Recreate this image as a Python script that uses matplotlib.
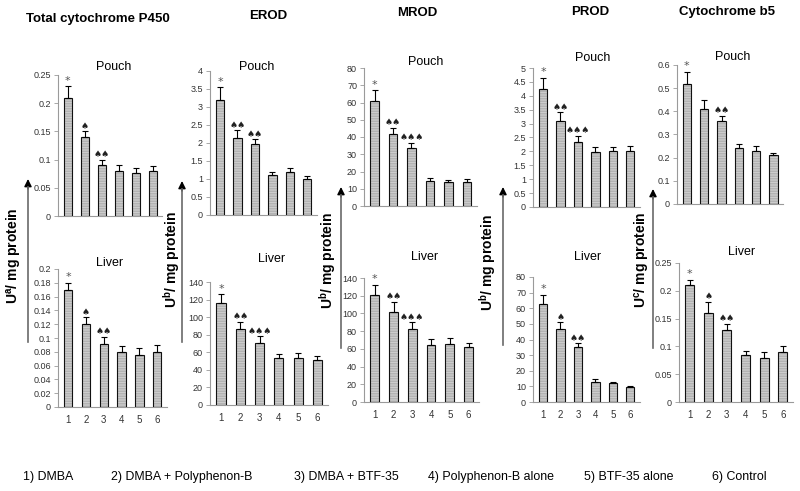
import numpy as np
import matplotlib
matplotlib.use('Agg')
import matplotlib.pyplot as plt
from matplotlib.patches import FancyArrowPatch
from matplotlib.lines import Line2D
from matplotlib import font_manager

plt.rcParams['font.family'] = ['Liberation Sans', 'DejaVu Sans']
plt.rcParams['mathtext.fontset'] = 'custom'
plt.rcParams['mathtext.rm'] = 'Liberation Sans'
plt.rcParams['mathtext.bf'] = 'Liberation Sans:bold'
plt.rcParams['hatch.linewidth'] = 0.6

# ---------------- data ----------------
groups = ['1', '2', '3', '4', '5', '6']
titles = ['Total cytochrome P450', 'EROD', 'MROD', 'PROD', 'Cytochrome b5']
ylabel_sup = ['a', 'b', 'b', 'b', 'c']

p450_pouch = [0.21, 0.14, 0.09, 0.08, 0.077, 0.08]
p450_pouch_err = [0.02, 0.01, 0.01, 0.01, 0.008, 0.008]
p450_pouch_sig = ['*', '♠', '♠♠', '', '', '']
p450_liver = [0.17, 0.12, 0.092, 0.079, 0.076, 0.08]
p450_liver_err = [0.01, 0.01, 0.01, 0.01, 0.01, 0.01]
p450_liver_sig = ['*', '♠', '♠♠', '', '', '']

erod_pouch = [3.2, 2.15, 1.97, 1.1, 1.2, 1.0]
erod_pouch_err = [0.35, 0.2, 0.13, 0.1, 0.1, 0.07]
erod_pouch_sig = ['*', '♠♠', '♠♠', '', '', '']
erod_liver = [116, 86, 71, 53, 54, 51]
erod_liver_err = [10, 9, 7, 5, 5, 5]
erod_liver_sig = ['*', '♠♠', '♠♠♠', '', '', '']

mrod_pouch = [61, 41.5, 33.5, 14.5, 13.8, 14]
mrod_pouch_err = [6, 4, 3, 1.5, 1.2, 1.5]
mrod_pouch_sig = ['*', '♠♠', '♠♠♠', '', '', '']
mrod_liver = [121, 102, 82, 64, 66, 62]
mrod_liver_err = [11, 11, 8, 7, 6, 5]
mrod_liver_sig = ['*', '♠♠', '♠♠♠', '', '', '']

prod_pouch = [4.25, 3.1, 2.33, 1.97, 2.0, 2.0]
prod_pouch_err = [0.4, 0.3, 0.22, 0.18, 0.15, 0.18]
prod_pouch_sig = ['*', '♠♠', '♠♠♠', '', '', '']
prod_liver = [62.5, 47, 35, 12.5, 12, 9.5]
prod_liver_err = [6, 4, 2.5, 2, 1, 0.5]
prod_liver_sig = ['*', '♠', '♠♠', '', '', '']

b5_pouch = [0.52, 0.41, 0.36, 0.24, 0.23, 0.21]
b5_pouch_err = [0.05, 0.04, 0.02, 0.02, 0.02, 0.01]
b5_pouch_sig = ['*', '', '♠♠', '', '', '']
b5_liver = [0.21, 0.16, 0.13, 0.084, 0.08, 0.09]
b5_liver_err = [0.01, 0.02, 0.01, 0.008, 0.01, 0.01]
b5_liver_sig = ['*', '♠', '♠♠', '', '', '']

legend_items = ['1) DMBA', '2) DMBA + Polyphenon-B', '3) DMBA + BTF-35',
                '4) Polyphenon-B alone', '5) BTF-35 alone', '6) Control']

# ---------------- layout ----------------
W, H = 800, 491
fig = plt.figure(figsize=(W / 100, H / 100), dpi=100)


def fx(x):
    return x / W


def fy(y):
    return 1 - y / H


def draw(rect, vals, errs, sig, top, step, show_x):
    x0, x1, yt, yb = rect
    ax = fig.add_axes([fx(x0), fy(yb), (x1 - x0) / W, (yb - yt) / H])
    x = np.arange(1, len(groups) + 1)
    ax.bar(x, vals, width=0.47, color='#a9a9a9', hatch='----------',
           edgecolor='#d4d4d4', linewidth=0, zorder=2)
    ax.bar(x, vals, width=0.47, fill=False, edgecolor='#111111',
           linewidth=0.8, zorder=3)
    ax.errorbar(x, vals, yerr=[np.zeros(len(vals)), errs], fmt='none',
                ecolor='black', elinewidth=0.8, capsize=2.5, capthick=0.8,
                zorder=4)
    for xi, v, e, s in zip(x, vals, errs, sig):
        if s:
            ax.annotate(s, (xi, v + e), xytext=(0, 0.5),
                        textcoords='offset points', ha='center', va='bottom',
                        fontsize=6.5 if s != '*' else 8,
                        color='#222222' if s != '*' else '#555555',
                        family=['DejaVu Sans'])
    ax.set_ylim(0, top)
    ax.set_xlim(0.43, 6.55)
    ticks = np.arange(0, top + step / 2, step)
    ax.set_yticks(ticks)
    ax.set_yticklabels(['%g' % round(t, 4) for t in ticks])
    for sp in ['top', 'right']:
        ax.spines[sp].set_visible(False)
    ax.spines['left'].set_color('#9a9a9a')
    ax.spines['bottom'].set_color('#9a9a9a')
    ax.spines['left'].set_linewidth(0.8)
    ax.spines['bottom'].set_linewidth(0.8)
    ax.tick_params(axis='y', length=3, width=0.6, color='#9a9a9a',
                   labelsize=6.5, labelcolor='#333333', pad=2)
    ax.set_xticks(x)
    if show_x:
        ax.set_xticklabels(groups)
        ax.tick_params(axis='x', length=0, labelsize=7, labelcolor='#333333', pad=6)
    else:
        ax.set_xticklabels([])
        ax.tick_params(axis='x', length=0)
    ax.patch.set_alpha(0)
    return ax


pouch_data = [(p450_pouch, p450_pouch_err, p450_pouch_sig),
              (erod_pouch, erod_pouch_err, erod_pouch_sig),
              (mrod_pouch, mrod_pouch_err, mrod_pouch_sig),
              (prod_pouch, prod_pouch_err, prod_pouch_sig),
              (b5_pouch, b5_pouch_err, b5_pouch_sig)]
liver_data = [(p450_liver, p450_liver_err, p450_liver_sig),
              (erod_liver, erod_liver_err, erod_liver_sig),
              (mrod_liver, mrod_liver_err, mrod_liver_sig),
              (prod_liver, prod_liver_err, prod_liver_sig),
              (b5_liver, b5_liver_err, b5_liver_sig)]

pouch_scale = [(0.25, 0.05), (4, 0.5), (80, 10), (5, 0.5), (0.6, 0.1)]
liver_scale = [(0.2, 0.02), (140, 20), (140, 20), (80, 10), (0.25, 0.05)]

pouch_rect = [(58, 162, 75, 216), (210, 317, 71, 215), (364, 477, 68, 206),
              (533, 640, 68, 207), (677, 783, 65, 204)]
liver_rect = [(58, 167, 269, 407), (210, 328, 282, 405), (364, 479, 278, 402),
              (533, 640, 277, 402), (679, 793, 263, 402)]

title_pos = [(98, 19), (268, 16), (417, 13), (590, 12), (727, 12)]
pouch_lab = [(114, 67), (257, 67), (426, 62), (593, 58), (733, 57)]
liver_lab = [(110, 263), (272, 259), (425, 257), (588, 257), (742, 252)]
ylab_pos = [(14, 256), (172, 259), (328, 260), (488, 262), (643, 260)]
arrow_pos = [(28, 179, 342), (182, 181, 342), (341, 187, 348),
             (503, 187, 345), (653, 189, 348)]

for i in range(5):
    v, e, s = pouch_data[i]
    draw(pouch_rect[i], v, e, s, *pouch_scale[i], show_x=False)
    v, e, s = liver_data[i]
    draw(liver_rect[i], v, e, s, *liver_scale[i], show_x=True)
    fig.text(fx(title_pos[i][0]), fy(title_pos[i][1]), titles[i],
             ha='center', va='center', fontsize=9.5, fontweight='bold')
    fig.text(fx(pouch_lab[i][0]), fy(pouch_lab[i][1]), 'Pouch',
             ha='center', va='center', fontsize=9)
    fig.text(fx(liver_lab[i][0]), fy(liver_lab[i][1]), 'Liver',
             ha='center', va='center', fontsize=9)
    fig.text(fx(ylab_pos[i][0]), fy(ylab_pos[i][1]),
             r'U$^{\mathbf{%s}}$/ mg protein' % ylabel_sup[i],
             rotation=90, ha='center', va='center', fontsize=10,
             fontweight='bold')
    ax_x, y_tip, y_tail = arrow_pos[i]
    fig.add_artist(Line2D([fx(ax_x), fx(ax_x)], [fy(y_tail), fy(y_tip + 8)],
                          transform=fig.transFigure, color='#6a6a6a', lw=1.2))
    arr = FancyArrowPatch((fx(ax_x), fy(y_tip + 10)), (fx(ax_x), fy(y_tip)),
                          transform=fig.transFigure, arrowstyle='-|>',
                          mutation_scale=11, color='black', lw=1.0,
                          shrinkA=0, shrinkB=0)
    fig.add_artist(arr)

# footer legend
names = {f.name for f in font_manager.fontManager.ttflist}
narrow = 'Liberation Sans Narrow' in names
leg_x = [23, 111, 294, 428, 584, 712]
for x, t in zip(leg_x, legend_items):
    if narrow:
        fig.text(fx(x), fy(477), t, ha='left', va='center', fontsize=10.5,
                 family=['Liberation Sans Narrow'])
    else:
        fig.text(fx(x), fy(477), t, ha='left', va='center', fontsize=8.9)

fig.savefig('out.png', dpi=100)
